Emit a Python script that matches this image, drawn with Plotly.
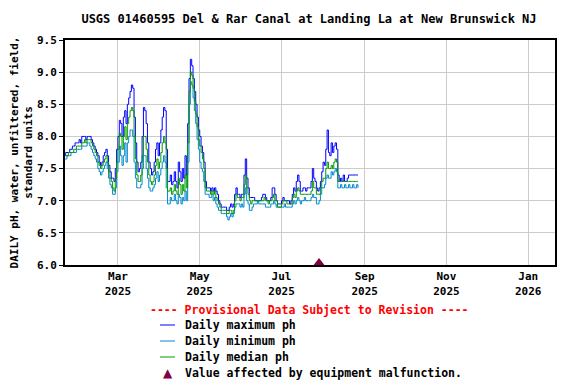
import pandas as pd
import plotly.graph_objects as go

START_DATE = "2025-01-20"

ph_max = [
    7.7, 7.75, 7.75, 7.75, 7.8, 7.8, 7.85, 7.85,
    7.9, 7.9, 7.9, 7.95, 7.9, 8.0, 8.0,
    8.0, 7.95, 8.0, 8.0, 8.0, 7.95, 7.9,
    7.85, 7.8, 7.75, 7.7, 7.6, 7.55, 7.6,
    7.7, 7.75, 7.8, 7.7, 7.55, 7.45, 7.35,
    7.35, 7.3, 7.5, 7.8, 8.0, 8.25, 8.2,
    8.0, 8.3, 8.4, 8.2, 8.5, 8.6, 8.7,
    8.8, 8.75, 8.3, 7.9, 7.6, 7.45, 7.5,
    7.6, 8.0, 8.45, 8.4, 8.2, 7.9, 7.6,
    7.5, 7.4, 7.45, 7.6, 7.8, 7.9, 7.7,
    7.9, 8.1, 8.3, 8.45, 8.4, 7.8, 7.3,
    7.3, 7.4, 7.25, 7.3, 7.45, 7.3, 7.2,
    7.6, 7.45, 7.3, 7.5, 7.35, 7.7, 7.4,
    8.2, 8.9, 9.2, 9.1, 8.9, 8.7, 8.5,
    8.3, 8.1, 8.0, 7.85, 7.75, 7.6, 7.3,
    7.2, 7.2, 7.2, 7.15, 7.2, 7.15, 7.2,
    7.15, 7.1, 7.0, 6.95, 6.9, 6.9, 6.9,
    6.9, 6.85, 6.85, 6.9, 6.95, 6.9, 6.95,
    7.1, 7.2, 7.1, 7.1, 7.05, 7.1, 7.1,
    7.4, 7.65, 7.35, 7.2, 7.05, 7.05, 7.05,
    7.05, 7.0, 7.0, 7.0, 7.0, 7.0, 7.05,
    7.1, 7.1, 7.05, 7.0, 7.0, 7.0, 7.05,
    7.2, 7.2, 7.1, 7.0, 6.95, 6.95, 6.95,
    7.0, 7.05, 7.0, 7.0, 7.0, 7.0, 6.95,
    7.0, 7.1, 7.2, 7.15, 7.3, 7.4, 7.3,
    7.15, 7.15, 7.2, 7.2, 7.15, 7.2, 7.2,
    7.2, 7.3, 7.5, 7.35, 7.3, 7.2, 7.15,
    7.2, 7.3, 7.45, 7.6, 7.55, 7.8, 8.1,
    7.75, 7.7, 7.9, 7.75, 7.85, 7.9, 7.8,
    7.4, 7.3, 7.35, 7.3, 7.4, 7.3, 7.3,
    7.35, 7.4, 7.4, 7.4, 7.4, 7.4, 7.4, 7.4, 7.4,
]

ph_median = [
    7.7, 7.7, 7.7, 7.75, 7.75, 7.75, 7.75, 7.8,
    7.8, 7.85, 7.85, 7.85, 7.85, 7.9, 7.9,
    7.95, 7.9, 7.95, 7.95, 7.95, 7.9, 7.85,
    7.8, 7.75, 7.7, 7.6, 7.55, 7.5, 7.55,
    7.6, 7.65, 7.7, 7.6, 7.45, 7.35, 7.3,
    7.2, 7.15, 7.35, 7.6, 7.8, 8.05, 8.0,
    7.8, 8.0, 8.15, 7.95, 8.2, 8.3, 8.4,
    8.45, 8.4, 8.0, 7.65, 7.4, 7.3, 7.3,
    7.4, 7.7, 8.0, 8.0, 7.8, 7.6, 7.4,
    7.3, 7.25, 7.3, 7.4, 7.55, 7.65, 7.5,
    7.6, 7.75, 7.9, 8.0, 7.9, 7.5, 7.15,
    7.15, 7.2, 7.1, 7.15, 7.25, 7.15, 7.1,
    7.35, 7.25, 7.1, 7.25, 7.15, 7.4, 7.2,
    7.9, 8.7, 9.0, 8.95, 8.75, 8.55, 8.35,
    8.15, 7.95, 7.85, 7.75, 7.65, 7.5, 7.2,
    7.15, 7.15, 7.15, 7.1, 7.15, 7.1, 7.15,
    7.05, 7.0, 6.95, 6.9, 6.85, 6.85, 6.85,
    6.85, 6.8, 6.8, 6.85, 6.85, 6.8, 6.85,
    7.0, 7.1, 7.05, 7.05, 7.0, 7.05, 7.05,
    7.25, 7.4, 7.2, 7.1, 7.0, 6.95, 7.0,
    7.0, 7.0, 7.0, 7.0, 7.0, 7.0, 7.0,
    7.0, 7.05, 7.0, 7.0, 6.95, 7.0, 7.0,
    7.05, 7.1, 7.0, 7.0, 6.9, 6.9, 6.9,
    6.95, 7.0, 7.0, 7.0, 6.95, 6.95, 6.95,
    6.95, 7.05, 7.1, 7.05, 7.15, 7.2, 7.15,
    7.1, 7.1, 7.1, 7.1, 7.1, 7.1, 7.1,
    7.1, 7.15, 7.3, 7.2, 7.2, 7.1, 7.1,
    7.1, 7.2, 7.3, 7.35, 7.35, 7.5, 7.6,
    7.5, 7.5, 7.55, 7.5, 7.6, 7.65, 7.6,
    7.3, 7.3, 7.3, 7.3, 7.3, 7.3, 7.3,
    7.3, 7.3, 7.3, 7.3, 7.3, 7.3, 7.3, 7.3, 7.3,
]

ph_min = [
    7.65, 7.65, 7.7, 7.7, 7.7, 7.75, 7.75, 7.75,
    7.75, 7.8, 7.8, 7.8, 7.8, 7.85, 7.85,
    7.85, 7.85, 7.9, 7.9, 7.85, 7.8, 7.75,
    7.7, 7.65, 7.6, 7.5, 7.45, 7.4, 7.45,
    7.5, 7.55, 7.6, 7.5, 7.35, 7.25, 7.2,
    7.1, 7.1, 7.2, 7.45, 7.6, 7.85, 7.7,
    7.55, 7.7, 7.9, 7.6, 7.9, 8.0, 8.1,
    8.1, 8.0, 7.6, 7.35, 7.2, 7.2, 7.2,
    7.25, 7.5, 7.7, 7.7, 7.5, 7.35, 7.2,
    7.15, 7.15, 7.2, 7.25, 7.35, 7.45, 7.3,
    7.4, 7.5, 7.6, 7.7, 7.6, 7.2, 6.95,
    6.95, 7.05, 7.0, 7.0, 7.1, 7.0, 6.95,
    7.1, 7.05, 6.95, 7.05, 7.0, 7.15, 7.0,
    7.6, 8.5, 8.85, 8.8, 8.6, 8.4, 8.2,
    7.95, 7.8, 7.6, 7.5, 7.45, 7.3, 7.1,
    7.1, 7.1, 7.05, 7.05, 7.1, 7.0, 7.05,
    6.95, 6.9, 6.85, 6.85, 6.8, 6.8, 6.8,
    6.8, 6.75, 6.7, 6.75, 6.8, 6.75, 6.8,
    6.9, 6.95, 6.95, 6.95, 6.9, 6.95, 6.9,
    7.1, 7.2, 7.0, 6.95, 6.85, 6.85, 6.9,
    6.95, 6.95, 6.95, 7.0, 6.95, 6.95, 6.95,
    6.95, 6.95, 6.9, 6.9, 6.9, 6.9, 6.95,
    6.95, 7.0, 6.95, 6.9, 6.9, 6.9, 6.9,
    6.9, 6.9, 6.95, 6.9, 6.9, 6.9, 6.9,
    6.9, 6.95, 7.0, 6.95, 7.0, 7.05, 7.0,
    6.95, 7.0, 7.0, 7.05, 7.0, 7.0, 7.0,
    7.0, 7.05, 7.1, 7.05, 7.05, 6.95, 6.95,
    7.0, 7.1, 7.2, 7.2, 7.25, 7.35, 7.4,
    7.35, 7.35, 7.45, 7.4, 7.45, 7.5, 7.45,
    7.2, 7.2, 7.25, 7.2, 7.2, 7.25, 7.2,
    7.2, 7.25, 7.2, 7.2, 7.25, 7.2, 7.2, 7.25, 7.2,
]

malfunction_dates = ["2025-07-29"]
malfunction_values = [6.03]

tick_dates = ["2025-03-01", "2025-05-01", "2025-07-01", "2025-09-01", "2025-11-01", "2026-01-01"]
tick_labels = ["Mar<br>2025", "May<br>2025", "Jul<br>2025", "Sep<br>2025", "Nov<br>2025", "Jan<br>2026"]
y_ticks = [6.0, 6.5, 7.0, 7.5, 8.0, 8.5, 9.0, 9.5]

series_names = ["Daily maximum ph", "Daily minimum ph", "Daily median ph"]
series_colors = ["#0000FF", "#0088CC", "#009900"]
marker_name = "Value affected by equipment malfunction."
marker_color = "#800040"
provisional_text = "---- Provisional Data Subject to Revision ----"
title_text = "USGS 01460595 Del & Rar Canal at Landing La at New Brunswick NJ"

dates = pd.date_range(START_DATE, periods=len(ph_max), freq="D")

MONO = "DejaVu Sans Mono"
OFF = 8  # page body margin offset
W, H = 576 - OFF, 384 - OFF
# reference pixel layout of the plot area: left 65, right 555, top 40, bottom 265
L, T = 65 - OFF, 40 - OFF
R = W - (555 - OFF)
B = H - (265 - OFF)
PW, PH = W - L - R, H - T - B


def px_x(x):
    return (x - OFF - L) / PW


def px_y(y):
    return (H - B - (y - OFF)) / PH


fig = go.Figure()
for vals, name, col in zip([ph_max, ph_min, ph_median], series_names, series_colors):
    fig.add_trace(go.Scatter(x=dates, y=vals, mode="lines",
                             line=dict(color=col, width=1, shape="hv"),
                             name=name, showlegend=False))
fig.add_trace(go.Scatter(x=malfunction_dates, y=malfunction_values, mode="markers",
                         marker=dict(symbol="triangle-up", size=10, color=marker_color),
                         cliponaxis=False, name=marker_name, showlegend=False))

# manual legend (layout only)
shapes = []
annotations = []
annotations.append(dict(text=provisional_text, xref="paper", yref="paper",
                        x=px_x(309), y=px_y(310), xanchor="center", yanchor="middle",
                        showarrow=False,
                        font=dict(family=MONO, size=11.5, color="red", weight="bold")))
row_y = [325, 341, 357, 373]
for i, (name, col) in enumerate(zip(series_names, series_colors)):
    shapes.append(dict(type="line", xref="paper", yref="paper",
                       x0=px_x(160), x1=px_x(175), y0=px_y(row_y[i]), y1=px_y(row_y[i]),
                       line=dict(color=col, width=1)))
    annotations.append(dict(text=name, xref="paper", yref="paper",
                            x=px_x(183), y=px_y(row_y[i]), xanchor="left", yanchor="middle",
                            showarrow=False,
                            font=dict(family=MONO, size=11.5, color="black", weight="bold")))
annotations.append(dict(text="\u25B2", xref="paper", yref="paper",
                        x=px_x(168), y=px_y(row_y[3]), xanchor="center", yanchor="middle",
                        showarrow=False,
                        font=dict(family="DejaVu Sans", size=12, color=marker_color)))
annotations.append(dict(text=marker_name, xref="paper", yref="paper",
                        x=px_x(183), y=px_y(row_y[3]), xanchor="left", yanchor="middle",
                        showarrow=False,
                        font=dict(family=MONO, size=11.5, color="black", weight="bold")))

fig.update_layout(
    width=W, height=H,
    margin=dict(l=L, r=R, t=T, b=B, autoexpand=False),
    paper_bgcolor="white", plot_bgcolor="white",
    font=dict(family=MONO, size=11, color="black", weight="bold"),
    title=dict(text=title_text,
               x=(309 - OFF) / W, xanchor="center", y=1 - (19 - OFF) / H, yanchor="middle",
               font=dict(family=MONO, size=12, color="black", weight="bold")),
    showlegend=False,
    shapes=shapes,
    annotations=annotations,
    xaxis=dict(
        range=["2025-01-20 12:00", "2026-01-21"],
        tickmode="array", tickvals=tick_dates, ticktext=tick_labels,
        showgrid=True, gridcolor="#CCCCCC", gridwidth=1,
        showline=True, linecolor="black", linewidth=2, mirror=True,
        ticks="", zeroline=False,
        tickfont=dict(family=MONO, size=11, weight="bold"),
    ),
    yaxis=dict(
        range=[6.0, 9.5],
        tickmode="array", tickvals=y_ticks, tickformat=".1f",
        showgrid=True, gridcolor="#CCCCCC", gridwidth=1,
        showline=True, linecolor="black", linewidth=2, mirror=True,
        ticks="outside", ticklen=4, tickcolor="black",
        zeroline=False,
        tickfont=dict(family=MONO, size=11, weight="bold"),
        title=dict(text="DAILY pH, water, unfiltered, field,<br>standard units",
                   font=dict(family=MONO, size=11, weight="bold"), standoff=4),
    ),
)

fig.write_html("out.html")
